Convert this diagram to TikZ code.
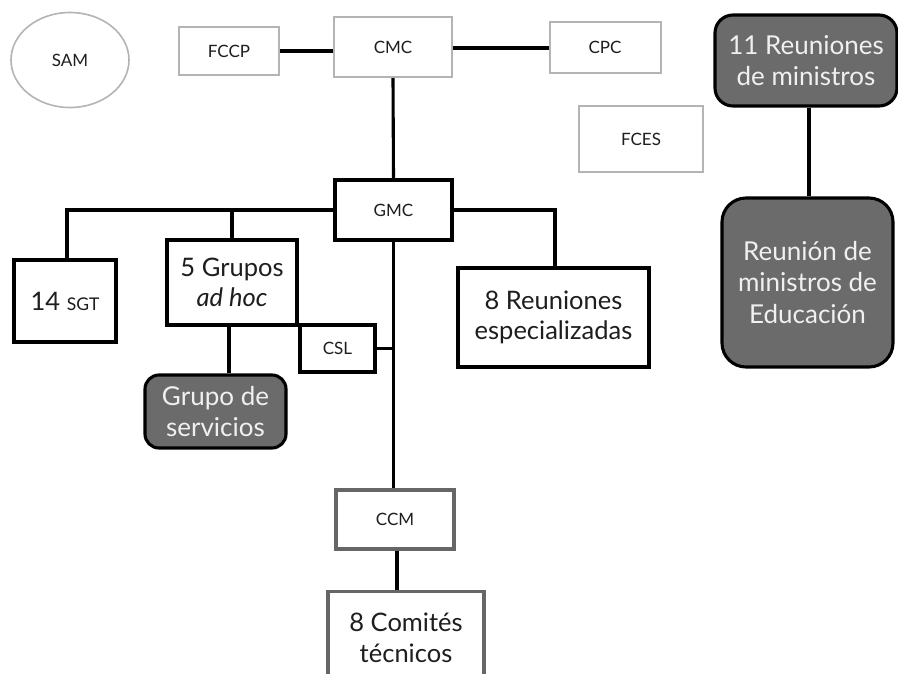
\documentclass[tikz,border=0pt]{standalone}
\usepackage{fontspec}
\setmainfont{Lato}
\usetikzlibrary{shapes.geometric,calc}
\definecolor{lightbd}{HTML}{B4B4B4}
\definecolor{midbd}{HTML}{666666}
\definecolor{darkfill}{HTML}{6B6B6B}
\definecolor{txt}{HTML}{1E1E1E}
\tikzset{
  small/.style={font=\fontsize{17}{20}\selectfont, text=txt},
  big/.style={font=\fontsize{25.5}{30.5}\selectfont, text=txt, align=center},
  greybox/.style={draw=lightbd, line width=2pt, fill=white, rectangle, inner sep=0pt, small},
  blackbox/.style={draw=black, line width=3.1pt, fill=white, rectangle, inner sep=0pt},
  midbox/.style={draw=midbd, line width=3.1pt, fill=white, rectangle, inner sep=0pt},
  darkbox/.style={draw=black, line width=3.1pt, fill=darkfill, rectangle, rounded corners=#1, inner sep=0pt,
     font=\fontsize{26}{31.5}\selectfont, text=white!94!black, align=center},
  conn/.style={draw=black, line width=3.1pt},
}
\begin{document}
\begin{tikzpicture}[x=1pt,y=-1pt]
\clip (0,0) rectangle (898,673);
\fill[white] (0,0) rectangle (898,673);

% top row
\node[ellipse, draw=lightbd, line width=1.6pt, minimum width=118, minimum height=95, inner sep=0pt, small] (sam) at (70,60) {SAM};
\node[greybox, minimum width=100, minimum height=48] (fccp) at (229,51) {FCCP};
\node[greybox, minimum width=118, minimum height=60] (cmc) at (393,47) {CMC};
\node[greybox, minimum width=111, minimum height=51] (cpc) at (605,47) {CPC};
\node[greybox, minimum width=124, minimum height=66] (fces) at (641,139) {FCES};

% ministers
\node[darkbox=18pt, minimum width=182, minimum height=91] (rmin) at (806,60.5) {11 Reuniones\\de ministros};
\node[darkbox=24pt, minimum width=171, minimum height=169] (redu) at (807.5,282.5) {Reunión de\\ministros de\\Educación};

% GMC level
\node[blackbox, minimum width=117, minimum height=60, small] (gmc) at (393.5,210) {GMC};
\node[blackbox, minimum width=102, minimum height=82, big] (sgt) at (65,301) {14 {\fontsize{17.5}{18}\selectfont SGT}};
\node[blackbox, minimum width=130, minimum height=85, big] (grupos) at (232,282.5) {5 Grupos\\\textit{ad hoc}};
\node[darkbox=14pt, minimum width=141, minimum height=73] (serv) at (215.5,411.5) {Grupo de\\servicios};
\node[blackbox, minimum width=75, minimum height=47, small] (csl) at (337.5,348.5) {CSL};
\node[blackbox, minimum width=191, minimum height=99, big] (reesp) at (553.5,317.5) {8 Reuniones\\especializadas};

% bottom
\node[midbox, minimum width=118, minimum height=59, small] (ccm) at (395,519.5) {CCM};
\node[midbox, minimum width=156, minimum height=130, anchor=north] (com) at (406,590) {};
\node[big] (comtxt) at (406,638) {8 Comités\\técnicos};

% connectors
\draw[conn] (fccp.east) -- (fccp.east -| cmc.west);
\draw[conn] ([yshift=-1pt]cmc.east) -- ([yshift=-1pt]cmc.east -| cpc.west);
\draw[conn] (cmc.south) -- (gmc.north);
\draw[conn] (gmc.west) -| ([xshift=2pt]sgt.north);
\draw[conn] (gmc.west -| grupos.north) -- (grupos.north);
\draw[conn] (gmc.east) -| ([xshift=1.5pt]reesp.north);
\draw[conn] (gmc.south) -- (gmc.south |- ccm.north);
\draw[conn] (csl.east) -- (csl.east -| gmc.south);
\draw[conn] ([xshift=-3pt]grupos.south) -- ([xshift=-3pt]grupos.south |- serv.north);
\draw[conn] ([xshift=3pt]rmin.south) -- ([xshift=3pt]rmin.south |- redu.north);
\draw[conn] ([xshift=2pt]ccm.south) -- ([xshift=2pt]ccm.south |- com.north);
\end{tikzpicture}
\end{document}
